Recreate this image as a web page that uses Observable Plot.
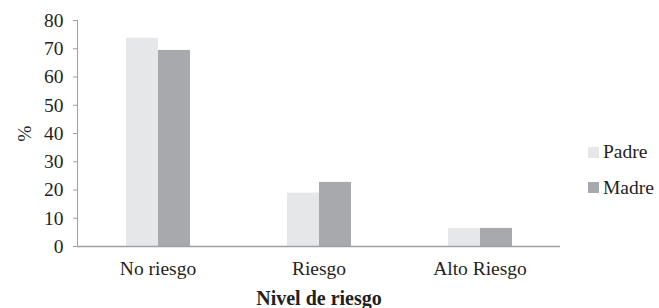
<!DOCTYPE html>
<html><head><meta charset="utf-8">
<script src="https://cdn.jsdelivr.net/npm/d3@7"></script>
<script src="https://cdn.jsdelivr.net/npm/@observablehq/plot@0.6"></script>
<style>
body{margin:0;background:#fff;}
#wrap{position:relative;width:659px;height:308px;}
#wrap svg, #wrap svg text{font-family:"Liberation Serif","Times New Roman","DejaVu Serif",serif !important;}
[aria-label="fx-axis label"] text{font-weight:bold;font-size:20px;}
.leg{position:absolute;left:588px;height:20px;font-size:19.5px;font-family:"Liberation Serif","Times New Roman","DejaVu Serif",serif;color:#231f20;display:flex;align-items:center;}
.sw{width:11px;height:11px;margin-right:4px;}
</style></head><body><div id="wrap"></div>
<script>
const categories = ["No riesgo","Riesgo","Alto Riesgo"];
const series = ["Padre","Madre"];
const padre = [73.7, 18.9, 6.4];
const madre = [69.4, 22.7, 6.4];
const colors = ["#e6e7e8","#a7a9ac"];
const yTicks = [0,10,20,30,40,50,60,70,80];

const data = categories.flatMap((c,i)=>[
  {cat:c, serie:series[0], v:padre[i]},
  {cat:c, serie:series[1], v:madre[i]}
]);

const chart = Plot.plot({
  width:659, height:308, marginLeft:76, marginRight:98, marginTop:20, marginBottom:62,
  style:{fontFamily:'"Liberation Serif", "Times New Roman", "DejaVu Serif", serif', fontSize:"19.5px", color:"#231f20", background:"#fff"},
  fx:{domain:categories, padding:0},
  x:{domain:series, paddingInner:0, paddingOuter:1.49, axis:null},
  y:{domain:[0,80]},
  color:{domain:series, range:colors},
  marks:[
    Plot.barY(data,{fx:"cat", x:"serie", y:"v", fill:"serie"}),
    Plot.ruleY([0],{stroke:"#a0a0a0", strokeWidth:1.3}),
    Plot.frame({anchor:"left", stroke:"#a0a0a0", facetAnchor:"left"}),
    Plot.axisY({ticks:yTicks, tickSize:4, tickPadding:10, stroke:"#a0a0a0", fill:"#231f20", label:"%", labelArrow:false, labelAnchor:"center", labelOffset:60}),
    Plot.axisFx({anchor:"bottom", tickSize:0, tickPadding:15, fill:"#231f20", label:"Nivel de riesgo", labelAnchor:"center", labelOffset:58})
  ]
});
const wrap = document.getElementById("wrap");
wrap.appendChild(chart);
const centers = [152, 187.5];
series.forEach((s,i)=>{
  const d = document.createElement("div");
  d.className = "leg";
  d.style.top = (centers[i]-10)+"px";
  const sw = document.createElement("span");
  sw.className = "sw";
  sw.style.background = colors[i];
  d.appendChild(sw);
  d.appendChild(document.createTextNode(s));
  wrap.appendChild(d);
});
</script></body></html>
